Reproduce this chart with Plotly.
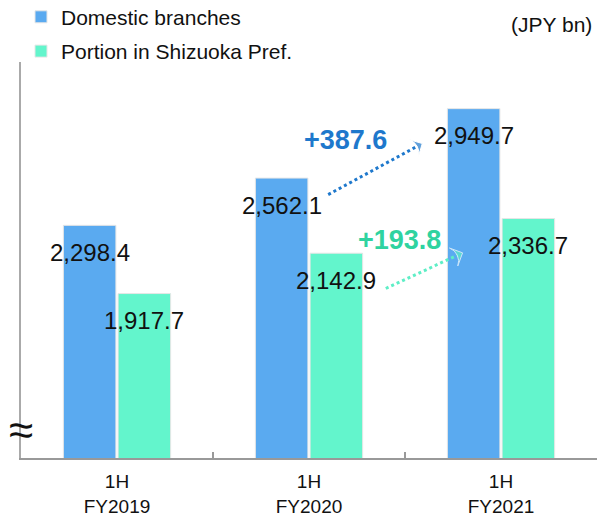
import plotly.graph_objects as go

periods = ['1H<br>FY2019', '1H<br>FY2020', '1H<br>FY2021']
domestic = [2298.4, 2562.1, 2949.7]
shizuoka = [1917.7, 2142.9, 2336.7]
series_names = ['Domestic branches', 'Portion in Shizuoka Pref.']

blue = '#5aaaf0'
green = '#63f5cc'
blue_dark = '#1e78cc'
green_dark = '#2fd3a0'
font = 'Arial, Liberation Sans, sans-serif'

fig = go.Figure()
fig.add_bar(x=periods, y=domestic, name=series_names[0], marker_color=blue,
            legendgroup='a', marker_line=dict(color='#e6e6e6', width=1))
fig.add_bar(x=periods, y=shizuoka, name=series_names[1], marker_color=green,
            legendgroup='b', marker_line=dict(color='#e6e6e6', width=1))

# value labels, sitting just below each bar top
for vals, shift in [(domestic, -27), (shizuoka, 27)]:
    for p, v in zip(periods, vals):
        fig.add_annotation(x=p, y=v, xshift=shift, yshift=-27, text=f'{v:,.1f}',
                           showarrow=False, font=dict(size=24, color='#111'))

# growth arrows (dotted) between FY2020 and FY2021
diff_dom = domestic[2] - domestic[1]
diff_shz = shizuoka[2] - shizuoka[1]
arrows = [
    ([1.10, 1.59], [2470, 2755], blue_dark, f'+{diff_dom:.1f}', 1.19, 2777),
    ([1.40, 1.80], [1946, 2145], '#5eeec6', f'+{diff_shz:.1f}', 1.47, 2219),
]
text_cols = [blue_dark, green_dark]
for (ax, ay, col, txt, tx, ty), tc in zip(arrows, text_cols):
    fig.add_trace(go.Scatter(
        x=ax, y=ay, mode='lines+markers', showlegend=False, hoverinfo='skip',
        line=dict(color=col, width=3, dash='dot'),
        marker=dict(symbol=['circle', 'arrow-wide'], size=[0, 14], color=col,
                    angleref='previous'),
        xaxis='x2'))
    fig.add_annotation(x=tx, y=ty, xref='x2', text=f'<b>{txt}</b>', showarrow=False,
                       font=dict(size=27, color=tc))

fig.add_annotation(xref='paper', yref='paper', x=1.0, y=1.128, xanchor='right',
                   xshift=-3, text='(JPY bn)', showarrow=False,
                   font=dict(size=21, color='#111'))
fig.add_annotation(xref='paper', yref='y', x=0, y=1160, xanchor='center', text='≈',
                   showarrow=False, font=dict(size=44, color='#111'))

fig.update_layout(
    width=603, height=518,
    margin=dict(l=21, r=6, t=62, b=60, autoexpand=False),
    paper_bgcolor='white', plot_bgcolor='white',
    font=dict(family=font, color='#111'),
    barmode='group', bargap=0.43, bargroupgap=0.04,
    showlegend=True,
    legend=dict(x=0.0, y=1.165, xanchor='left', yanchor='top',
                font=dict(size=21), bgcolor='rgba(0,0,0,0)', tracegroupgap=4),
    xaxis=dict(showline=True, linecolor='#999', linewidth=2, ticks='inside',
               tickson='boundaries', ticklen=6, tickcolor='#999', tickwidth=2,
               tickfont=dict(size=19, color='#111'), showgrid=False,
               ticklabelstandoff=5, automargin=False),
    xaxis2=dict(overlaying='x', range=[-0.5, 2.5], visible=False),
    yaxis=dict(range=[1000, 3210], showline=True, linecolor='#aaa', linewidth=2,
               showticklabels=False, showgrid=False, zeroline=False, ticks='',
               automargin=False),
)

fig.write_html('out.html', config={'displayModeBar': False},
               post_script="document.body.style.margin='0';")
